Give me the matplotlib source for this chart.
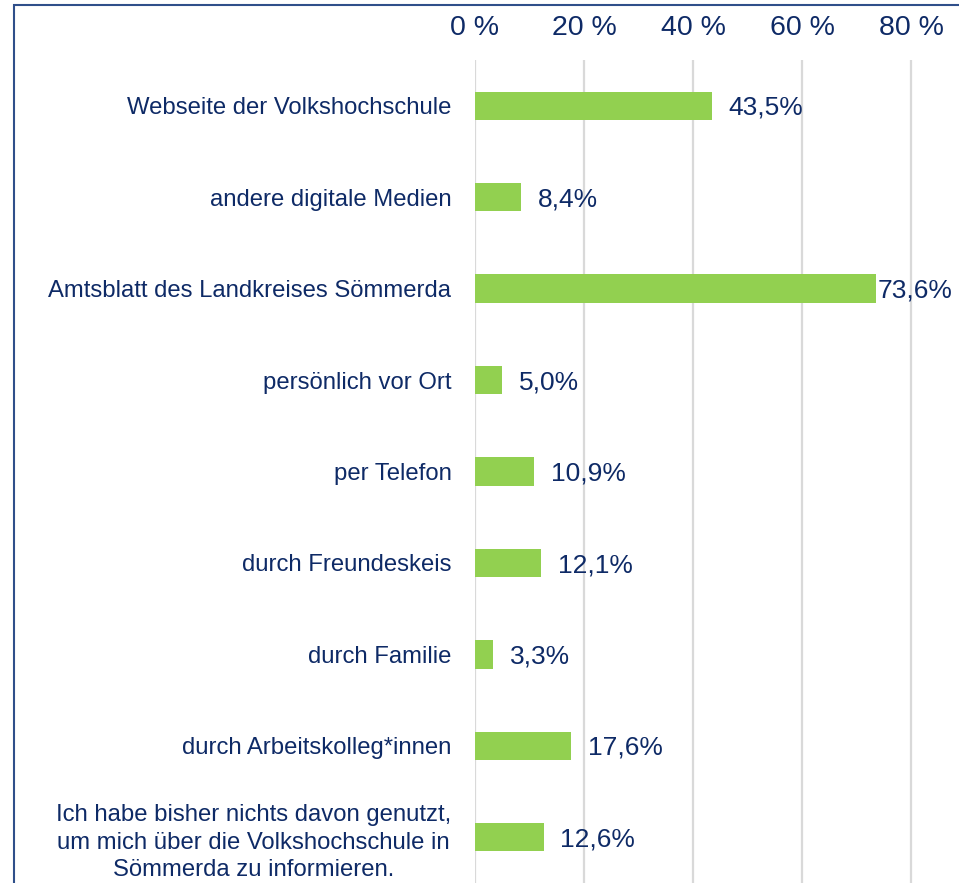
import matplotlib
matplotlib.use("Agg")
import matplotlib.pyplot as plt
from matplotlib.patches import Rectangle

categories = [
    "Webseite der Volkshochschule",
    "andere digitale Medien",
    "Amtsblatt des Landkreises Sömmerda",
    "persönlich vor Ort",
    "per Telefon",
    "durch Freundeskeis",
    "durch Familie",
    "durch Arbeitskolleg*innen",
    "Ich habe bisher nichts davon genutzt,\num mich über die Volkshochschule in\nSömmerda zu informieren.",
]
values = [43.5, 8.4, 73.6, 5.0, 10.9, 12.1, 3.3, 17.6, 12.6]
value_labels = ["43,5%", "8,4%", "73,6%", "5,0%", "10,9%", "12,1%", "3,3%", "17,6%", "12,6%"]
xticks = [0, 20, 40, 60, 80]
xtick_labels = ["0 %", "20 %", "40 %", "60 %", "80 %"]

TXT = "#0E2A66"
GREEN = "#92D050"
GRID = "#D9D9D9"
FRAME = "#2F4F8A"

plt.rcParams["font.family"] = ["Liberation Sans", "DejaVu Sans"]

W, H = 959, 883
fig = plt.figure(figsize=(W / 100, H / 100), dpi=100)
ax = fig.add_axes([475 / W, 0, 1 - 475 / W, 1 - 60 / H])

y = list(range(len(categories)))
ax.barh(y, values, height=0.31, color=GREEN, zorder=3)
ax.set_ylim(len(categories) - 0.5, -0.5)
ax.set_xlim(0, (W - 475) / 5.45)

ax.set_xticks(xticks)
ax.set_xticklabels(xtick_labels, fontsize=20.5, color=TXT)
ax.xaxis.tick_top()
ax.tick_params(axis="x", length=0, pad=13.5)
ax.set_yticks(y)
ax.set_yticklabels(categories, fontsize=17.2, color=TXT, multialignment="center",
                   linespacing=1.34)
ax.tick_params(axis="y", length=0, pad=17)
ax.grid(axis="x", color=GRID, linewidth=1.6, zorder=0)
for s in ax.spines.values():
    s.set_visible(False)

for yi, v, lab in zip(y, values, value_labels):
    off = 1 if v > 70 else 12
    ax.annotate(lab, (v, yi), xytext=(off, -1.5), textcoords="offset points",
                va="center", ha="left", fontsize=19, color=TXT, zorder=4)

fig.patches.append(Rectangle((14 / W, -0.05), 1.1, 1 - 5 / H + 0.05,
                             transform=fig.transFigure, fill=False,
                             edgecolor=FRAME, linewidth=1.5, zorder=10))

fig.savefig("out.png", dpi=100)
